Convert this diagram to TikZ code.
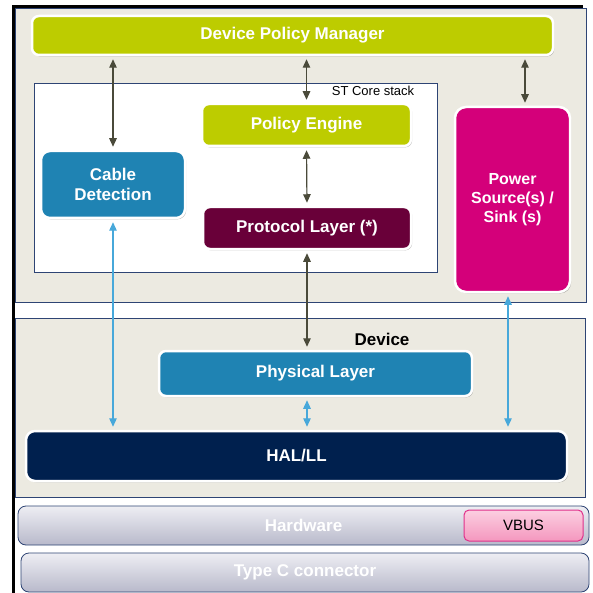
\documentclass[tikz,border=0pt]{standalone}
\usepackage{fontspec}
\setmainfont{Liberation Sans}
\usetikzlibrary{
	calc,
	arrows.meta,
	shadows,
	positioning
	}
\definecolor{stlime}{HTML}{BDCC00}
\definecolor{stblue}{HTML}{1F83B3}
\definecolor{stwine}{HTML}{690039}
\definecolor{stpink}{HTML}{D4007A}
\definecolor{stnavy}{HTML}{00204E}
\definecolor{stbeige}{HTML}{ECEAE1}
\definecolor{stframe}{HTML}{2E4474}
\definecolor{starrow}{HTML}{4A4A3A}
\definecolor{stsky}{HTML}{47A8DA}
\definecolor{hwtop}{HTML}{EEEEF3}
\definecolor{hwbot}{HTML}{B8B9CB}
\definecolor{vbtop}{HTML}{FCCFE1}
\definecolor{vbbot}{HTML}{F497BE}
\definecolor{vbline}{HTML}{E0308A}
\tikzstyle{panel}=[draw=stframe, fill=stbeige, line width=0.8pt, inner sep=0pt]
\tikzstyle{blok}=[draw=white, line width=2.5pt, rounded corners=7pt, text=white, inner sep=0pt, align=center,
	font={\bfseries\fontsize{17}{20}\selectfont},
	drop shadow={shadow xshift=1.2pt, shadow yshift=-1.4pt, fill=black, opacity=0.25}]
\tikzstyle{hwbar}=[draw=stframe, line width=0.8pt, rounded corners=8pt, top color=hwtop, bottom color=hwbot,
	text=white, font={\bfseries\fontsize{17}{20}\selectfont}, inner sep=0pt]
\tikzstyle{darr}=[{Triangle[length=8.5pt,width=7.5pt]}-{Triangle[length=8.5pt,width=7.5pt]}, draw=starrow, fill=starrow,
	line width=1.2pt, shorten <=3pt, shorten >=3pt]
\tikzstyle{barr}=[darr, draw=stsky, fill=stsky]

\begin{document}
\begin{tikzpicture}[x=1pt, y=-1pt]
	\useasboundingbox[fill=white] (0,0) rectangle (592,593);

	% frame and the two beige panels
	\node[panel, minimum width=571pt, minimum height=294pt] (top) at (300.5,155) {};
	\node[panel, minimum width=570pt, minimum height=179pt] (dev) at (300,407.5) {};
	\draw[line width=2.4pt] (13.5,593) -- (13.5,6.5) -- (583,6.5);

	\node[draw=stframe, fill=white, line width=0.8pt, minimum width=403pt, minimum height=189pt, inner sep=0pt] (core) at (235.5,177.5) {};
	\node[anchor=east, font={\fontsize{13}{15}\selectfont}, inner sep=0pt] (corelbl) at ($(core.north east)+(-23,8.5)$) {ST Core stack};
	\node[font={\bfseries\fontsize{17}{20}\selectfont}, inner sep=0pt] (devlbl) at ($(dev.north)+(82,22)$) {Device};

	% blocks
	\node[blok, fill=stlime, minimum width=521pt, minimum height=39pt] (dpm) at (292.5,35.5) {Device Policy Manager};
	\node[blok, fill=stlime, minimum width=209pt, minimum height=42pt] (pe) at (306.5,125) {Policy Engine};
	\node[blok, fill=stwine, minimum width=208pt, minimum height=42pt] (pl) at (307,228) {Protocol Layer (*)};
	\node[blok, fill=stblue, minimum width=144pt, minimum height=67pt, rounded corners=9pt] (cd) at (113,184.5) {Cable\\Detection};
	\node[blok, fill=stpink, minimum width=115pt, minimum height=185pt, rounded corners=11pt, font={\bfseries\fontsize{16}{19}\selectfont}] (pw) at (512.5,199.5) {Power\\Source(s) /\\Sink (s)};
	\node[blok, fill=stblue, minimum width=313pt, minimum height=45pt] (phy) at (315.5,373.5) {Physical Layer};
	\node[blok, fill=stnavy, minimum width=541pt, minimum height=50pt, rounded corners=9pt] (hal) at (296.5,456) {HAL/LL};

	% hardware and connector bars
	\node[hwbar, minimum width=571pt, minimum height=39pt] (hw) at (303.5,525.5) {Hardware};
	\node[hwbar, minimum width=568pt, minimum height=39pt] (typec) at (305,572.5) {Type C connector};
	\node[draw=vbline, line width=1pt, rounded corners=5pt, top color=vbtop, bottom color=vbbot, minimum width=119pt, minimum height=31pt,
		inner sep=0pt, font={\fontsize{15}{17}\selectfont}] (vbus) at (523.5,525.5) {VBUS};

	% links
	\draw[darr] (cd.north) -- (cd.north |- dpm.south);
	\draw[darr] (pe.north) -- (pe.north |- dpm.south);
	\draw[darr] ([xshift=12.5pt]pw.north) -- ([xshift=12.5pt]pw.north |- dpm.south);
	\draw[darr] (pe.south) -- (pl.north);
	\draw[darr] (pl.south) -- (pl.south |- phy.north);
	\draw[barr] (cd.south) -- (cd.south |- hal.north);
	\draw[barr] ([xshift=-8.5pt]phy.south) -- ([xshift=-8.5pt]phy.south |- hal.north);
	\draw[barr] ([xshift=-4.5pt]pw.south) -- ([xshift=-4.5pt]pw.south |- hal.north);
\end{tikzpicture}
\end{document}
